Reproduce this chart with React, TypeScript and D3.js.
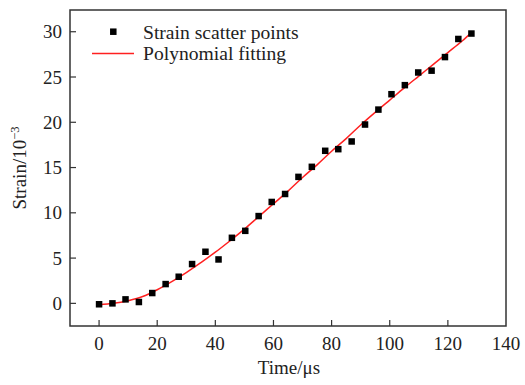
import React from "react";
import * as d3 from "d3";

const times = [0, 4.6, 9.1, 13.7, 18.3, 22.9, 27.4, 32.0, 36.6, 41.1, 45.7, 50.3, 54.9, 59.4, 64.0, 68.6, 73.2, 77.8, 82.3, 86.9, 91.5, 96.1, 100.6, 105.2, 109.8, 114.4, 119.0, 123.6, 128.1];
const strain = [-0.1, 0.0, 0.44, 0.15, 1.14, 2.13, 2.94, 4.34, 5.7, 4.85, 7.24, 8.01, 9.64, 11.2, 12.08, 13.97, 15.08, 16.85, 17.03, 17.88, 19.75, 21.4, 23.1, 24.1, 25.5, 25.7, 27.2, 29.2, 29.8];

const fitTimes = [0, 5, 10, 15, 20, 25, 30, 35, 40, 45, 50, 55, 60, 65, 70, 75, 80, 85, 90, 95, 100, 105, 110, 115, 120, 125, 128.1];
const fitStrain = [-0.15, 0.0, 0.3, 0.75, 1.5, 2.4, 3.4, 4.5, 5.65, 6.9, 8.2, 9.6, 11.0, 12.4, 13.9, 15.3, 16.8, 18.2, 19.7, 21.1, 22.45, 23.8, 25.1, 26.4, 27.7, 29.0, 29.9];

const xTicks = [0, 20, 40, 60, 80, 100, 120, 140];
const yTicks = [0, 5, 10, 15, 20, 25, 30];
const legendLabels = ["Strain scatter points", "Polynomial fitting"];

const W = 525, H = 385;
const L = 70, R = 506, T = 10, B = 326;
const font = "'Liberation Serif', 'Times New Roman', serif";
const fs = 19;
const legendFs = 19.6;

export default function App() {
  const x = d3.scaleLinear().domain([-10, 140]).range([L, R]);
  const y = d3.scaleLinear().domain([-2.5, 32.4]).range([B, T]);
  const line = d3.line<number>().x((_, i) => x(fitTimes[i])).y((d) => y(d)).curve(d3.curveMonotoneX);
  const axisColor = "#333";
  const ms = 6.5;
  return (
    <svg width={W} height={H} style={{ position: "absolute", left: 0, top: 0, background: "#fff" }}>
      <rect x={L} y={T} width={R - L} height={B - T} fill="none" stroke={axisColor} strokeWidth={1.5} />
      {xTicks.map((t) => (
        <g key={"x" + t}>
          {x(t) < R - 1 && <line x1={x(t)} x2={x(t)} y1={B} y2={B - 6} stroke={axisColor} strokeWidth={1.2} />}
          <text x={x(t)} y={349.5} textAnchor="middle" fontFamily={font} fontSize={fs} fill="#222">{t}</text>
        </g>
      ))}
      {yTicks.map((t) => (
        <g key={"y" + t}>
          <line x1={L} x2={L + 6} y1={y(t)} y2={y(t)} stroke={axisColor} strokeWidth={1.2} />
          <text x={62} y={y(t)} dy="0.35em" textAnchor="end" fontFamily={font} fontSize={fs} fill="#222">{t}</text>
        </g>
      ))}
      <text x={289} y={374} textAnchor="middle" fontFamily={font} fontSize={fs} fill="#222">Time/μs</text>
      <text transform={`translate(26, ${(T + B) / 2}) rotate(-90)`} textAnchor="middle" fontFamily={font} fontSize={fs} fill="#222">
        Strain/10<tspan dy="-7" fontSize={12.5}>−3</tspan>
      </text>
      <path d={line(fitStrain) || ""} fill="none" stroke="#ff2020" strokeWidth={1.5} />
      {times.map((t, i) => (
        <rect key={i} x={x(t) - ms / 2} y={y(strain[i]) - ms / 2} width={ms} height={ms} fill="#000" />
      ))}
      <rect x={113.3 - ms / 2} y={31.7 - ms / 2} width={ms} height={ms} fill="#000" />
      <text x={143} y={31.7} dy="0.35em" fontFamily={font} fontSize={legendFs} fill="#222">{legendLabels[0]}</text>
      <line x1={92} x2={134} y1={53.5} y2={53.5} stroke="#ff2020" strokeWidth={1.5} />
      <text x={143} y={53.5} dy="0.35em" fontFamily={font} fontSize={legendFs} fill="#222">{legendLabels[1]}</text>
    </svg>
  );
}
